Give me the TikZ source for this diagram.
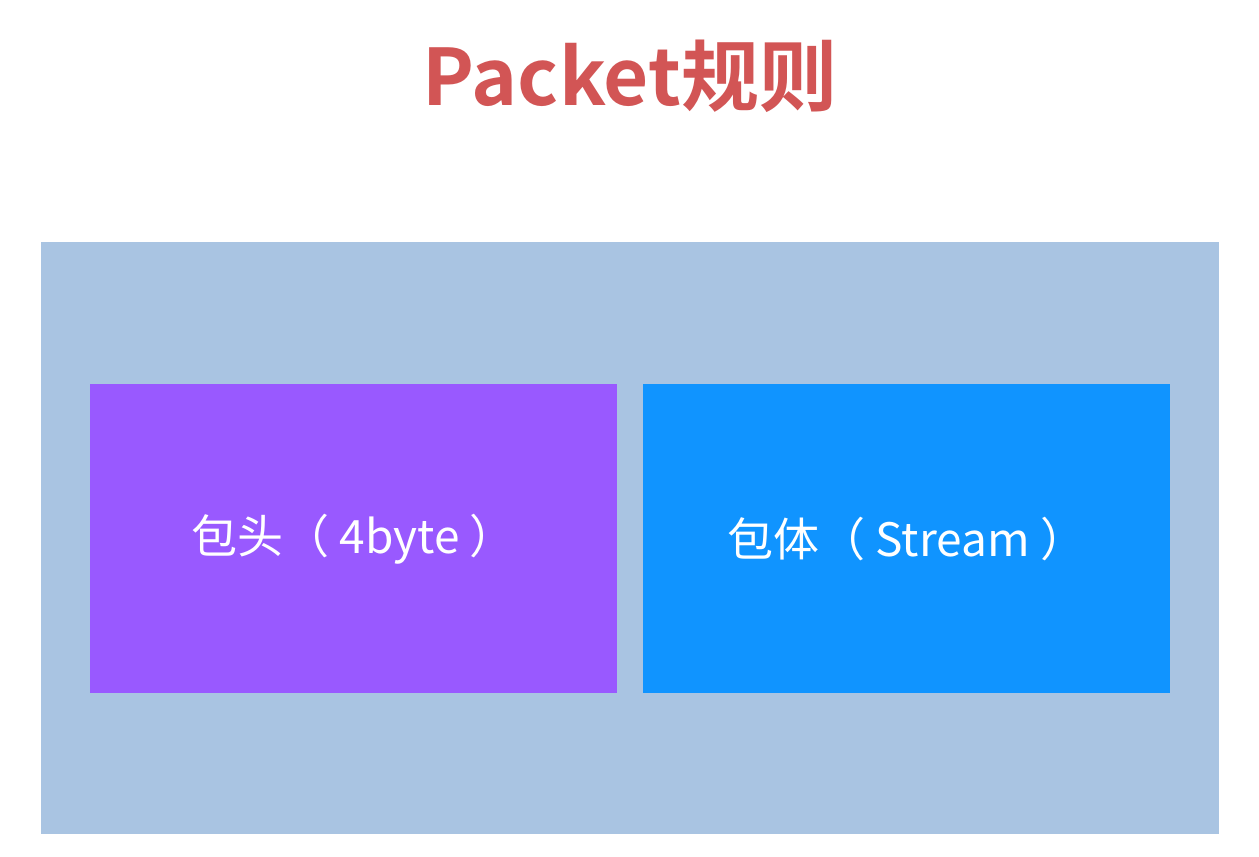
\documentclass[tikz,border=0pt]{standalone}
\usepackage{fontspec}
\newfontfamily\cjk{Noto Sans CJK SC}
\newfontfamily\cjkb{Noto Sans CJK SC Bold}
\definecolor{outerblue}{HTML}{A9C4E2}
\definecolor{headpurple}{HTML}{9959FF}
\definecolor{bodyblue}{HTML}{1094FF}
\definecolor{titlered}{HTML}{D25555}
\begin{document}
\begin{tikzpicture}[x=1pt,y=-1pt,
  box/.style={draw=none,minimum width=527pt,minimum height=309pt,inner sep=0pt,anchor=north west,text=white,font=\cjk\fontsize{46}{54}\selectfont}]
\useasboundingbox (0,0) rectangle (1259,857);
\fill[white] (0,0) rectangle (1259,857);
\node[fill=outerblue,minimum width=1178pt,minimum height=592pt,inner sep=0pt,anchor=north west] (frame) at (41,242) {};
\node[box,fill=headpurple] (head) at (90,384) {包头（ 4byte ）};
\node[box,fill=bodyblue] (body) at (643,384) {包体（ Stream ）};
\node[text=titlered,font=\cjkb\fontsize{78}{88}\selectfont] (title) at (630,76) {Packet规则};
\end{tikzpicture}
\end{document}
